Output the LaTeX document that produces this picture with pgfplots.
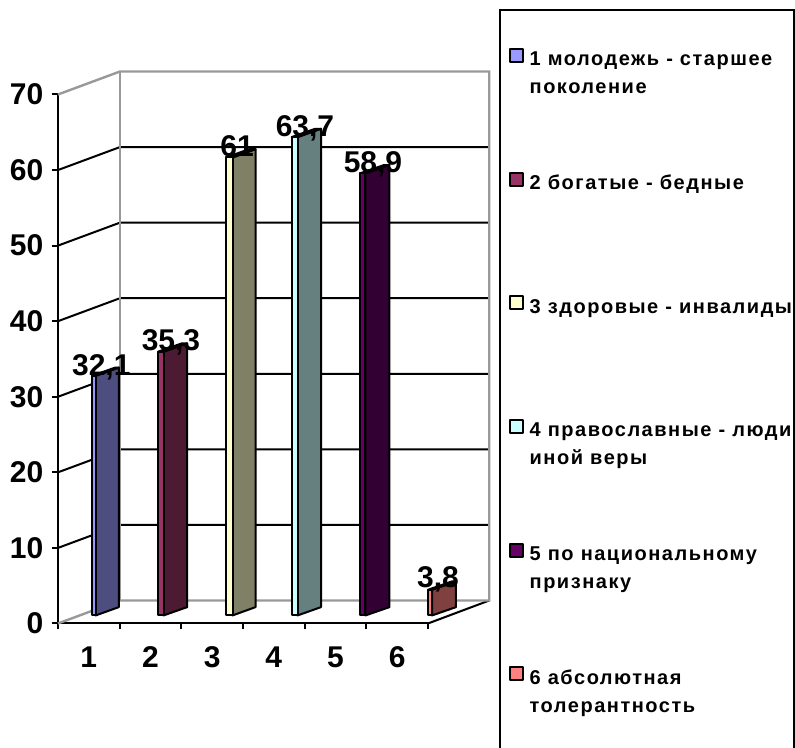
\documentclass[border=0pt]{standalone}
\usepackage{fontspec}
\setmainfont{Liberation Sans}
\newfontface\legf[LetterSpace=7.6]{Liberation Sans Bold}
\usepackage{pgfplots}
\pgfplotsset{compat=1.18}
\newlength\px \setlength\px{0.75pt}
\newcommand{\bigfont}{\fontsize{22.5}{26}\bfseries\selectfont}
\newcommand{\legfont}{\legf\fontsize{15}{21}\selectfont}
\newcommand{\leg}[1]{\makebox[252.5\px][l]{\parbox[t]{320\px}{\raggedright\legfont #1}}}
\pgfplotsset{
  bar/.style={draw=black,line width=2\px,line join=round,forget plot,fill=#1},
  swatch/.style={draw=black,line width=2\px,line join=round,fill=#1,
    legend image code/.code={\path[draw=black,line width=2\px,fill=#1] (0,-1\px) rectangle (13\px,12\px);}},
  wall/.style={color=black,line width=2\px,forget plot,no markers},
  gwall/.style={color=black!40,line width=2.4\px,forget plot,no markers},
}
\definecolor{c1}{HTML}{9999FF}\definecolor{d1}{HTML}{4D4D80}
\definecolor{c2}{HTML}{993366}\definecolor{d2}{HTML}{4D1A33}
\definecolor{c3}{HTML}{FFFFCC}\definecolor{d3}{HTML}{808066}
\definecolor{c4}{HTML}{CCFFFF}\definecolor{d4}{HTML}{668080}
\definecolor{c5}{HTML}{660066}\definecolor{d5}{HTML}{330033}
\definecolor{c6}{HTML}{FF8080}\definecolor{d6}{HTML}{804040}
\begin{document}
\begin{tikzpicture}
\begin{axis}[
  at={(43.5pt,93.4pt)},anchor=south west,
  scale only axis,width=370\px,height=529\px,
  xmin=0.5,xmax=6.5,ymin=0,ymax=70,clip=false,
  axis x line*=bottom,axis y line*=left,
  axis line style={line width=2\px,black,-},
  xtick={0.5,1.5,2.5,3.5,4.5,5.5,6.5},
  xticklabels={},
  ytick={0,10,20,30,40,50,60,70},
  tick align=outside,
  major tick length=6\px,
  tick style={black,line width=2\px},
  extra x ticks={1,2,3,4,5,6},
  extra x tick labels={1,2,3,4,5,6},
  extra x tick style={major tick length=0pt,
    xticklabel style={yshift=-18\px,text height=16pt}},
  yticklabel style={xshift=-4\px},
  tick label style={font=\bigfont},
  /pgf/number format/assume math mode=true,
  legend cell align=left,
  legend style={at={(1.1919,1.1616)},anchor=north west,draw=black,line width=2\px,
    fill=white,inner xsep=9\px,inner ysep=38\px,row sep=101\px,
    cells={anchor=base west,inner sep=0pt},
    /tikz/column 1/.style={column sep=3\px}},
]
% back wall
\addplot[wall] coordinates {(6.5,0)(7.494,3.04)};
\addplot[wall] coordinates {(0.5,10)(1.505,13.04)(7.494,13.04)};
\addplot[wall] coordinates {(0.5,20)(1.505,23.04)(7.494,23.04)};
\addplot[wall] coordinates {(0.5,30)(1.505,33.04)(7.494,33.04)};
\addplot[wall] coordinates {(0.5,40)(1.505,43.04)(7.494,43.04)};
\addplot[wall] coordinates {(0.5,50)(1.505,53.04)(7.494,53.04)};
\addplot[wall] coordinates {(0.5,60)(1.505,63.04)(7.494,63.04)};
\addplot[gwall] coordinates {(0.5,0)(1.505,3.04)(7.494,3.04)(7.494,73.04)(1.505,73.04)(0.5,70)};
\addplot[gwall] coordinates {(1.505,3.04)(1.505,73.04)};
% bars: value at the front top edge, raised by the floor offset
\addplot[bar=d1,yshift=5\px] coordinates {(1.111,0.4)(1.111,32.1)(1.486,33.2)(1.486,1.5)} -- cycle;
\addplot[bar=d1,yshift=5\px] coordinates {(1.051,32.1)(1.111,32.1)(1.486,33.2)(1.426,33.2)} -- cycle;
\addplot[swatch=c1,yshift=5\px] coordinates {(1.051,0.4)(1.051,32.1)(1.111,32.1)(1.111,0.4)} -- cycle;
\addlegendentry{\leg{1 молодежь - старшее\\поколение}}
\addplot[bar=d2,yshift=5\px] coordinates {(2.211,0.4)(2.211,35.3)(2.595,36.4)(2.595,1.5)} -- cycle;
\addplot[bar=d2,yshift=5\px] coordinates {(2.122,35.3)(2.211,35.3)(2.595,36.4)(2.506,36.4)} -- cycle;
\addplot[swatch=c2,yshift=5\px] coordinates {(2.122,0.4)(2.122,35.3)(2.211,35.3)(2.211,0.4)} -- cycle;
\addlegendentry{\leg{2 богатые - бедные}}
\addplot[bar=d3,yshift=5\px] coordinates {(3.330,0.4)(3.330,61)(3.703,62.1)(3.703,1.5)} -- cycle;
\addplot[bar=d3,yshift=5\px] coordinates {(3.224,61)(3.330,61)(3.703,62.1)(3.597,62.1)} -- cycle;
\addplot[swatch=c3,yshift=5\px] coordinates {(3.224,0.4)(3.224,61)(3.330,61)(3.330,0.4)} -- cycle;
\addlegendentry{\leg{3 здоровые - инвалиды}}
\addplot[bar=d4,yshift=5\px] coordinates {(4.384,0.4)(4.384,63.7)(4.765,64.8)(4.765,1.5)} -- cycle;
\addplot[bar=d4,yshift=5\px] coordinates {(4.290,63.7)(4.384,63.7)(4.765,64.8)(4.671,64.8)} -- cycle;
\addplot[swatch=c4,yshift=5\px] coordinates {(4.290,0.4)(4.290,63.7)(4.384,63.7)(4.384,0.4)} -- cycle;
\addlegendentry{\leg{4 православные - люди\\иной веры}}
\addplot[bar=d5,yshift=5\px] coordinates {(5.486,0.4)(5.486,58.9)(5.875,60)(5.875,1.5)} -- cycle;
\addplot[bar=d5,yshift=5\px] coordinates {(5.397,58.9)(5.486,58.9)(5.875,60)(5.786,60)} -- cycle;
\addplot[swatch=c5,yshift=5\px] coordinates {(5.397,0.4)(5.397,58.9)(5.486,58.9)(5.486,0.4)} -- cycle;
\addlegendentry{\leg{5 по национальному\\признаку}}
\addplot[bar=d6,yshift=5\px] coordinates {(6.565,0.4)(6.565,3.8)(6.954,4.9)(6.954,1.5)} -- cycle;
\addplot[bar=d6,yshift=5\px] coordinates {(6.500,3.8)(6.565,3.8)(6.954,4.9)(6.889,4.9)} -- cycle;
\addplot[swatch=c6,yshift=5\px] coordinates {(6.500,0.4)(6.500,3.8)(6.565,3.8)(6.565,0.4)} -- cycle;
\addlegendentry{\leg{6 абсолютная\\толерантность}}
\addlegendimage{empty legend}
\addlegendentry{}
% data labels
\node[font=\bigfont,anchor=base] at (axis cs:1.202,32.8) {32,1};
\node[font=\bigfont,anchor=base] at (axis cs:2.332,36.1) {35,3};
\node[font=\bigfont,anchor=base] at (axis cs:3.403,61.8) {61};
\node[font=\bigfont,anchor=base] at (axis cs:4.505,64.5) {63,7};
\node[font=\bigfont,anchor=base] at (axis cs:5.608,59.7) {58,9};
\node[font=\bigfont,anchor=base] at (axis cs:6.662,4.76) {3,8};
\end{axis}
\pgfresetboundingbox
\useasboundingbox (0,0) rectangle (596.25pt,561pt);
\end{tikzpicture}
\end{document}
